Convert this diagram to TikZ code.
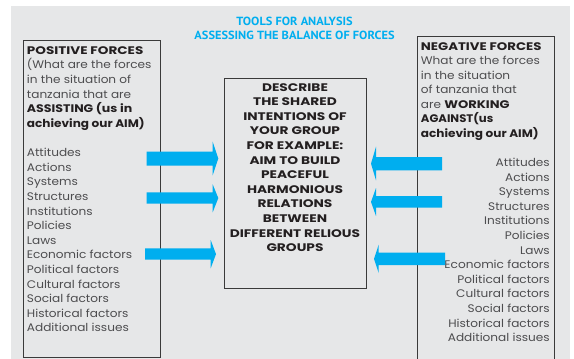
\documentclass[tikz,border=0pt]{standalone}
\usepackage{graphicx}
\usepackage{fontspec}
\setmainfont{Poppins}
\newfontfamily\titlefont{PT Sans}
\definecolor{bgx}{HTML}{E6E7E8}
\definecolor{cyanx}{HTML}{00AEEF}
\definecolor{framex}{HTML}{3A3A3A}
\definecolor{txtx}{HTML}{4D4D4F}
\definecolor{boldx}{HTML}{231F20}
\newcommand{\bx}[2][1.12]{\scalebox{#1}[1]{\bfseries\color{boldx}#2}}
\tikzset{
  titletext/.style={inner sep=0pt, anchor=base, text=cyanx, xscale=1.05, font=\titlefont\bfseries\fontsize{11.8}{13}\selectfont},
  boxframe/.style={draw=framex, line width=0.9pt},
  linetext/.style={inner sep=0pt, text=txtx, xscale=1.10, font=\fontsize{11}{13}\selectfont},
  midtext/.style={inner sep=0pt, anchor=base, text=boldx, xscale=1.25, font=\bfseries\fontsize{11}{13}\selectfont},
  arrowfill/.style={fill=cyanx}
}
\begin{document}
\begin{tikzpicture}[x=1pt,y=-1pt]
\useasboundingbox (0,0) rectangle (574,359);
\fill[white] (0,0) rectangle (574,359);
\fill[bgx] (11,6) rectangle (570,359);
% titles
\node[titletext] (t1) at (294.5,25) {TOOLS FOR ANALYSIS};
\node[titletext] (t2) at (294.5,39.3) {ASSESSING THE BALANCE OF FORCES};
% boxes
\node[boxframe, anchor=north west, minimum width=137pt, minimum height=317pt, inner sep=0pt] (pos) at (23,40) {};
\node[boxframe, anchor=north west, minimum width=142pt, minimum height=210pt, inner sep=0pt] (mid) at (224,78) {};
\coordinate (nbl) at (417,360);
\coordinate (nbr) at (554,360);
\draw[boxframe] (nbl) |- (554,36) -- (nbr);
% left box text
\foreach \txt [count=\i from 0] in {\bx{POSITIVE FORCES},{(What are the forces},in the situation of,tanzania that are,\bx[1.04]{ASSISTING (us in},\bx[1.0]{achieving our AIM)},{},Attitudes,Actions,Systems,Structures,Institutions,Policies,Laws,Economic factors,Political factors,Cultural factors,Social factors,Historical factors,Additional issues}
  \node[linetext, anchor=base west] (p\i) at (26.7, 54.2+14.62*\i) {\txt};
% right box text header
\foreach \txt [count=\i from 0] in {\bx[1.10]{NEGATIVE FORCES},What are the forces,in the situation,of tanzania that,are \bx[1.08]{WORKING},\bx[0.965]{AGAINST(us},\bx[1.0]{achieving our AIM)}}
  \node[linetext, anchor=base west] (nh\i) at (420.7, 50+14.58*\i) {\txt};
\foreach \txt [count=\i from 8] in {Attitudes,Actions,Systems,Structures,Institutions,Policies,Laws,Economic factors,Political factors,Cultural factors,Social factors,Historical factors,Additional issues}
  \node[linetext, anchor=base east] (nl\i) at (550, 50+14.58*\i) {\txt};
% middle text
\foreach \txt [count=\i from 0] in {DESCRIBE,THE SHARED,INTENTIONS OF,YOUR GROUP,FOR EXAMPLE:,AIM TO BUILD,PEACEFUL,HARMONIOUS,RELATIONS,BETWEEN,DIFFERENT RELIOUS,GROUPS}
  \node[midtext] (m\i) at (295, 91+14.6*\i) {\txt};
% arrows pointing right
\fill[arrowfill] (146.7,151.7) -- (212.7,151.7) -- (212.7,141.7) -- (218.3,158.6) -- (212.7,175.3) -- (212.7,165.7) -- (146.7,165.7) -- cycle;
\fill[arrowfill] (146.7,192.3) -- (212.7,192.3) -- (212.7,184.3) -- (218.3,198.1) -- (212.7,212.3) -- (212.7,203.7) -- (146.7,203.7) -- cycle;
\fill[arrowfill] (145,248.3) -- (210.7,248.3) -- (210.7,240) -- (216,254.1) -- (210.7,268.3) -- (210.7,259.7) -- (145,259.7) -- cycle;
% arrows pointing left
\fill[arrowfill] (442,157) -- (376,157) -- (376,146.7) -- (371,163.6) -- (376,180.3) -- (376,170.3) -- (442,170.3) -- cycle;
\fill[arrowfill] (442,196) -- (376,196) -- (376,188) -- (371,201.9) -- (376,216) -- (376,207.7) -- (442,207.7) -- cycle;
\fill[arrowfill] (445,252.7) -- (378.7,252.7) -- (378.7,244.6) -- (374,258.9) -- (378.7,273) -- (378.7,265) -- (445,265) -- cycle;
\end{tikzpicture}
\end{document}
